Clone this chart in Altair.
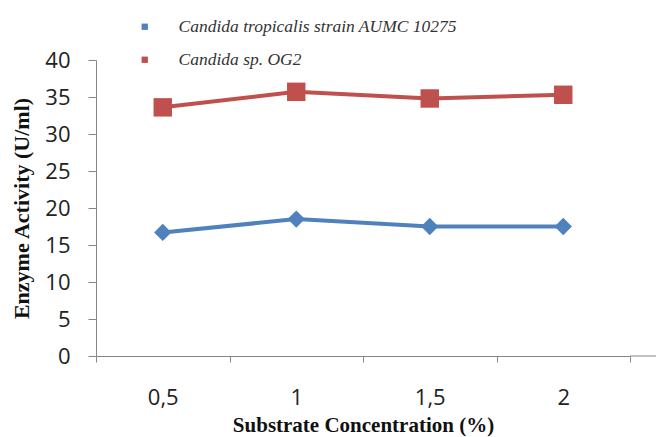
import altair as alt
import pandas as pd

concentrations = ["0,5", "1", "1,5", "2"]
series_names = ["Candida tropicalis strain AUMC 10275", "Candida sp. OG2"]
tropicalis = [16.7, 18.5, 17.5, 17.5]
og2 = [33.6, 35.7, 34.8, 35.3]
y_ticks = [0, 5, 10, 15, 20, 25, 30, 35, 40]

rows = []
for c, v in zip(concentrations, tropicalis):
    rows.append({"conc": c, "series": series_names[0], "activity": v})
for c, v in zip(concentrations, og2):
    rows.append({"conc": c, "series": series_names[1], "activity": v})
df = pd.DataFrame(rows)

colors = ["#4F81BD", "#C0504D"]
color_scale = alt.Scale(domain=series_names, range=colors)

x = alt.X("conc:N", sort=concentrations, scale=alt.Scale(domain=concentrations, paddingInner=0, paddingOuter=0),
          axis=alt.Axis(title="Substrate Concentration (%)", labelAngle=0, tickBand="extent", grid=False,
                        labelFont="Open Sans", labelFontSize=22, labelColor="#222222", labelPadding=25,
                        tickSize=6, tickColor="#868686", domainColor="#868686",
                        titleFont="Liberation Serif", titleFontSize=21, titleFontWeight="bold",
                        titleColor="#111111", titlePadding=6))
y = alt.Y("activity:Q", scale=alt.Scale(domain=[0, 40]),
          axis=alt.Axis(title="Enzyme Activity (U/ml)", values=y_ticks, grid=False,
                        labelFont="Open Sans", labelFontSize=22, labelColor="#222222", labelPadding=18,
                        tickSize=8, tickColor="#868686", domainColor="#868686",
                        titleFont="Liberation Serif", titleFontSize=22, titleFontWeight="bold",
                        titleColor="#111111", titlePadding=11))

legend = alt.Legend(title=None, orient="none", legendX=40, legendY=-42,
                    symbolType="square", symbolSize=40, symbolStrokeWidth=0,
                    labelFont="Liberation Serif", labelFontStyle="italic",
                    labelFontSize=17.5, labelColor="#333333", labelOffset=25,
                    rowPadding=14, labelLimit=400)

base = alt.Chart(df)

lines = base.mark_line(strokeWidth=4).encode(
    x=x, y=y,
    stroke=alt.Stroke("series:N", scale=color_scale, legend=legend),
    detail="series:N",
)

diamonds = base.transform_filter(alt.datum.series == series_names[0]).mark_point(
    filled=True, size=300, opacity=1, shape="diamond").encode(
    x=x, y=y, fill=alt.Fill("series:N", scale=color_scale, legend=legend),
)
squares = base.transform_filter(alt.datum.series == series_names[1]).mark_point(
    filled=True, size=340, opacity=1, shape="square").encode(
    x=x, y=y, fill=alt.Fill("series:N", scale=color_scale, legend=legend),
)

axis_ext = alt.Chart(pd.DataFrame({"a": [0]})).mark_rule(color="#868686", strokeWidth=1).encode(
    x=alt.value(534), x2=alt.value(560), y=alt.value(296)
)

chart = alt.layer(lines, diamonds, squares, axis_ext).properties(
    width=534, height=296,
    autosize="none",
    padding={"left": 96, "top": 60, "right": 28, "bottom": 81},
    view=alt.ViewBackground(stroke="transparent", strokeWidth=0),
).configure_view(stroke="transparent", strokeWidth=0).configure(background="white")

chart.save("out.html", embed_options={"renderer": "svg", "actions": False})
